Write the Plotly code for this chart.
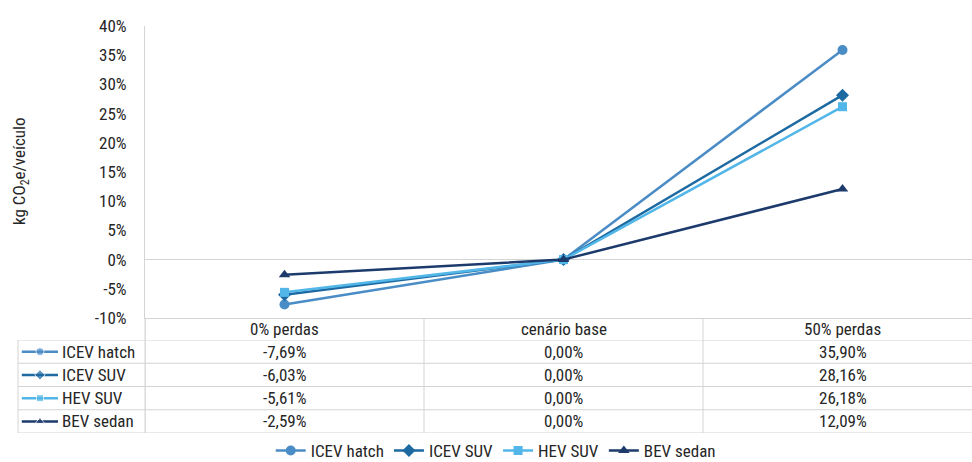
import plotly.graph_objects as go

# Scenario categories and emission variation (%) per vehicle
categories = ["0% perdas", "cenário base", "50% perdas"]
series_names = ["ICEV hatch", "ICEV SUV", "HEV SUV", "BEV sedan"]
icev_hatch = [-7.69, 0.00, 35.90]
icev_suv = [-6.03, 0.00, 28.16]
hev_suv = [-5.61, 0.00, 26.18]
bev_sedan = [-2.59, 0.00, 12.09]
y_ticks = [-10, -5, 0, 5, 10, 15, 20, 25, 30, 35, 40]

series_values = [icev_hatch, icev_suv, hev_suv, bev_sedan]
colors = ["#4a8cc6", "#1d6aa2", "#52b6e8", "#1c3b6c"]
symbols = ["circle", "diamond", "square", "triangle-up"]
sizes = [10, 10, 9, 10]

W, H = 972, 462
FONT = "Roboto Condensed, DejaVu Sans Condensed, Roboto"
FS = 17
GRID = "#d4d4d4"
TXT = "#262626"

def px_x(p):
    return p / W

def px_y(p):
    return 1 - p / H

def fmt(v):
    return f"{v:.2f}".replace(".", ",") + "%"

def tfont():
    return dict(family=FONT, size=FS, color=TXT)

fig = go.Figure()

# Main lines
for name, vals, c, s, sz in zip(series_names, series_values, colors, symbols, sizes):
    fig.add_trace(go.Scatter(
        x=list(range(len(categories))), y=vals, name=name,
        mode="lines+markers",
        line=dict(color=c, width=2.5),
        marker=dict(symbol=s, size=sz, color=c),
        xaxis="x", yaxis="y",
    ))

# Key glyphs in the data table's label column
for i, (name, c, s, sz) in enumerate(zip(series_names, colors, symbols, sizes)):
    fig.add_trace(go.Scatter(
        x=[0.03, 0.173, 0.315], y=[i, i, i],
        mode="lines+markers", showlegend=False, hoverinfo="skip",
        line=dict(color=c, width=2.5),
        marker=dict(symbol=s, size=[0, sz - 2, 0], color=c),
        xaxis="x2", yaxis="y2",
    ))

annotations = []
shapes = []

# Table header
for j, cat in enumerate(categories):
    annotations.append(dict(x=j, y=px_y(329), xref="x", yref="paper", text=cat,
                            showarrow=False, xanchor="center", yanchor="middle",
                            font=tfont()))

# Table body
for i, (name, vals) in enumerate(zip(series_names, series_values)):
    annotations.append(dict(x=0.33, y=i, xref="x2", yref="y2", text=name,
                            showarrow=False, xanchor="left", yanchor="middle",
                            font=tfont()))
    for j, v in enumerate(vals):
        annotations.append(dict(x=j, y=i, xref="x", yref="y2", text=fmt(v),
                                showarrow=False, xanchor="center", yanchor="middle",
                                font=tfont()))

# Y-axis title
annotations.append(dict(x=px_x(20), y=px_y(172), xref="paper", yref="paper",
                        text="kg CO<sub>2</sub>e/veículo", textangle=-90,
                        showarrow=False, xanchor="center", yanchor="middle",
                        font=tfont()))

# Table grid: horizontal lines
for k in range(len(series_names) + 1):
    shapes.append(dict(type="line", xref="paper", yref="y2",
                       x0=px_x(18), x1=1, y0=k - 0.5, y1=k - 0.5,
                       line=dict(color=GRID, width=1)))
# Left border of the table
shapes.append(dict(type="line", xref="paper", yref="y2",
                   x0=px_x(18), x1=px_x(18), y0=-0.5, y1=len(series_names) - 0.5,
                   line=dict(color=GRID, width=1)))
# Vertical separators between categories (table part)
for j in range(len(categories)):
    shapes.append(dict(type="line", xref="x", yref="paper",
                       x0=j - 0.5, x1=j - 0.5, y0=px_y(433), y1=px_y(318),
                       line=dict(color=GRID, width=1)))

fig.update_layout(
    width=W, height=H,
    margin=dict(l=0, r=0, t=0, b=0, autoexpand=False),
    paper_bgcolor="white", plot_bgcolor="white",
    font=tfont(),
    xaxis=dict(domain=[px_x(145), 1], range=[-0.5, 2.5 - 10 / 279],
               showticklabels=False, showgrid=False, zeroline=False,
               showline=True, linecolor=GRID, linewidth=1, ticks=""),
    yaxis=dict(domain=[px_y(318), px_y(26)], range=[-10, 40],
               tickvals=y_ticks, ticktext=[f"{v}%" for v in y_ticks],
               showgrid=False, automargin=False,
               zeroline=True, zerolinecolor=GRID, zerolinewidth=1,
               showline=True, linecolor=GRID, linewidth=1,
               ticklabelstandoff=14, tickfont=tfont()),
    xaxis2=dict(domain=[px_x(18), px_x(145)], range=[0, 1], visible=False,
                anchor="y2"),
    yaxis2=dict(domain=[px_y(433), px_y(340)],
                range=[len(series_names) - 0.5, -0.5], visible=False,
                anchor="x2"),
    legend=dict(orientation="h", xref="container", yref="container",
                x=0.51, y=px_y(451), xanchor="center", yanchor="middle",
                font=tfont(), itemwidth=30, tracegroupgap=0,
                bgcolor="rgba(0,0,0,0)"),
    annotations=annotations,
    shapes=shapes,
    showlegend=True,
)

# Extend the y-axis line down through the table
fig.add_shape(type="line", xref="paper", yref="paper",
              x0=px_x(145), x1=px_x(145), y0=px_y(433), y1=px_y(318),
              line=dict(color=GRID, width=1))

fig.write_html("out.html")
